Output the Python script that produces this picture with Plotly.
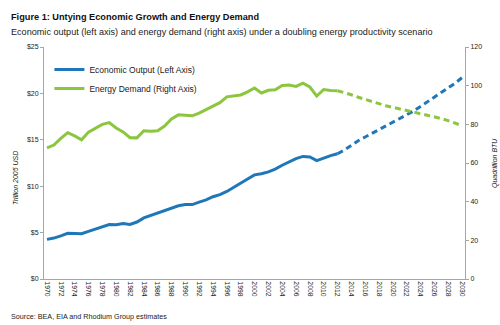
import plotly.graph_objects as go

years_hist = list(range(1970, 2013))
gdp_hist = [4.27, 4.41, 4.65, 4.92, 4.90, 4.88, 5.14, 5.38, 5.68, 5.86,
            5.84, 5.99, 5.87, 6.14, 6.58, 6.85, 7.09, 7.31, 7.61, 7.89,
            8.03, 8.02, 8.29, 8.52, 8.87, 9.09, 9.43, 9.85, 10.28, 10.77,
            11.22, 11.34, 11.55, 11.84, 12.26, 12.64, 12.98, 13.21, 13.16, 12.76,
            13.06, 13.30, 13.50]
energy_hist = [67.8, 69.3, 72.7, 75.7, 74.0, 72.0, 76.0, 78.0, 80.0, 80.9,
               78.1, 76.1, 73.1, 73.0, 76.7, 76.4, 76.7, 79.1, 82.8, 84.9,
               84.5, 84.4, 85.8, 87.5, 89.2, 91.2, 94.2, 94.8, 95.2, 96.8,
               98.8, 96.2, 97.6, 97.9, 100.1, 100.3, 99.6, 101.3, 99.3, 94.6,
               98.0, 97.5, 97.4]

years_proj = list(range(2012, 2031))
gdp_proj = [13.50, 13.9, 14.4, 14.9, 15.3, 15.7, 16.1, 16.5, 16.9, 17.3,
            17.7, 18.1, 18.6, 19.1, 19.6, 20.1, 20.6, 21.1, 21.7]
energy_proj = [97.4, 96.5, 95.3, 94.0, 92.8, 91.6, 90.5, 89.6, 88.8, 88.0,
               87.3, 86.5, 85.6, 84.7, 83.9, 83.0, 81.9, 80.6, 79.3]

tick_years = list(range(1970, 2031, 2))

BLUE = "#1f77b8"
GREEN = "#8cc63e"
FONT = "Liberation Sans, Arial, sans-serif"
TXT = "#222222"
PW, PH = 421, 232  # plot area size in px

fig = go.Figure()
fig.add_trace(go.Scatter(x=years_hist, y=gdp_hist, mode="lines",
                         name="Economic Output (Left Axis)",
                         line=dict(color=BLUE, width=3), yaxis="y"))
fig.add_trace(go.Scatter(x=years_hist, y=energy_hist, mode="lines",
                         name="Energy Demand (Right Axis)",
                         line=dict(color=GREEN, width=3), yaxis="y2"))
fig.add_trace(go.Scatter(x=years_proj, y=gdp_proj, mode="lines", showlegend=False,
                         line=dict(color=BLUE, width=3, dash="6px,4px"), yaxis="y"))
fig.add_trace(go.Scatter(x=years_proj, y=energy_proj, mode="lines", showlegend=False,
                         line=dict(color=GREEN, width=3, dash="6px,4px"), yaxis="y2"))

fig.update_layout(
    width=500, height=325,
    margin=dict(l=44, r=35, t=47, b=46),
    paper_bgcolor="white", plot_bgcolor="white",
    font=dict(family=FONT, size=7, color=TXT),
    showlegend=True,
    legend=dict(x=5.4 / PW, y=1 - 8 / PH, xanchor="left", yanchor="top",
                font=dict(size=8.5, color="#1a1a1a"), bgcolor="rgba(0,0,0,0)",
                tracegroupgap=0, itemwidth=30),
    xaxis=dict(range=[1969.57, 2030.43], tickmode="array", tickvals=tick_years,
               ticktext=[str(y) for y in tick_years], tickangle=90,
               showgrid=False, zeroline=False, showline=True, linecolor="#a6a6a6",
               linewidth=1, ticks="", tickfont=dict(size=6.8, color=TXT)),
    yaxis=dict(range=[0, 25], dtick=5, tickprefix="$", showgrid=False, zeroline=False,
               showline=True, linecolor="#a6a6a6", linewidth=1, ticks="outside",
               ticklen=3, tickcolor="#a6a6a6", tickfont=dict(size=7, color=TXT)),
    yaxis2=dict(range=[0, 120], dtick=20, overlaying="y", side="right", showgrid=False,
                zeroline=False, showline=True, linecolor="#a6a6a6", linewidth=1,
                ticks="outside", ticklen=3, tickcolor="#a6a6a6",
                tickfont=dict(size=7, color=TXT)),
    annotations=[
        dict(text="<b>Figure 1: Untying Economic Growth and Energy Demand</b>",
             xref="paper", yref="paper", x=-35 / PW, y=1 + 30 / PH, xanchor="left",
             yanchor="middle", showarrow=False, font=dict(size=9.2, color="#111111")),
        dict(text="Economic output (left axis) and energy demand (right axis) under a doubling energy productivity scenario",
             xref="paper", yref="paper", x=-35 / PW, y=1 + 15 / PH, xanchor="left",
             yanchor="middle", showarrow=False, font=dict(size=9.1, color="#1a1a1a")),
        dict(text="Source: BEA, EIA and Rhodium Group estimates",
             xref="paper", yref="paper", x=-35 / PW, y=-37 / PH, xanchor="left",
             yanchor="middle", showarrow=False, font=dict(size=7.2, color="#1a1a1a")),
        dict(text="<i>Trillion 2005 USD</i>", textangle=-90,
             xref="paper", yref="paper", x=-29 / PW, y=101 / PH, xanchor="center",
             yanchor="middle", showarrow=False, font=dict(size=7, color=TXT)),
        dict(text="<i>Quadrillion BTU</i>", textangle=-90,
             xref="paper", yref="paper", x=1 + 30 / PW, y=116 / PH, xanchor="center",
             yanchor="middle", showarrow=False, font=dict(size=7, color=TXT)),
    ],
)

fig.write_html("out.html")
